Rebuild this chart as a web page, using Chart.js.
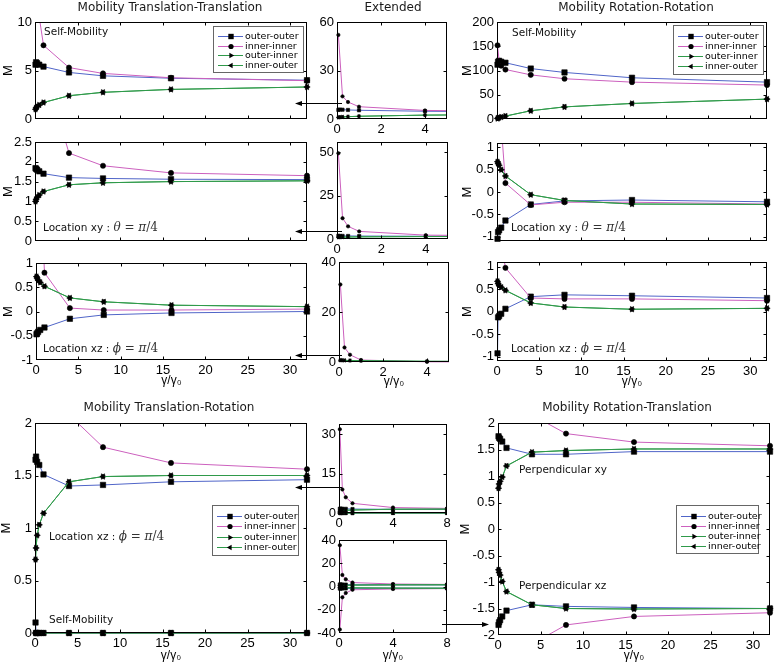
<!DOCTYPE html>
<html><head><meta charset="utf-8">
<style>
html,body{margin:0;padding:0;background:#fff;width:775px;height:666px;overflow:hidden}
#wrap{position:relative;width:775px;height:666px}
#wrap canvas{position:absolute;left:0;top:0}
</style>
<script src="https://cdn.jsdelivr.net/npm/chart.js@4.4.1/dist/chart.umd.min.js"></script>
</head><body>
<div id="wrap"></div>
<script>
// ---------- data ----------
const X = [0.0625, 0.125, 0.25, 0.5, 1, 4, 8, 16, 32];

// Mobility Translation-Translation
const ttSelfOO = [5.6, 5.85, 5.75, 5.6, 5.4, 4.8, 4.45, 4.2, 4.0];
const ttSelfII = [52, null, 14, 10.5, 7.6, 5.3, 4.7, 4.25, 3.95];
const ttSelfOI = [1.0, 1.15, 1.3, 1.45, 1.7, 2.4, 2.75, 3.05, 3.3];
const ttSelfIO = [1.0, 1.15, 1.3, 1.45, 1.7, 2.4, 2.75, 3.05, 3.3];
const ttXyOO = [1.84, 1.82, 1.8, 1.76, 1.7, 1.6, 1.58, 1.56, 1.55];
const ttXyII = [49.5, null, 12, 7.3, 4.4, 2.22, 1.9, 1.72, 1.65];
const ttXyOI = [1.0, 1.05, 1.1, 1.16, 1.25, 1.42, 1.47, 1.5, 1.52];
const ttXyIO = [1.0, 1.05, 1.1, 1.16, 1.25, 1.42, 1.47, 1.5, 1.52];
const ttXzOO = [-0.47, -0.45, -0.42, -0.38, -0.33, -0.15, -0.07, -0.03, 0.0];
const ttXzII = [31, null, 5.8, 2.9, 0.8, 0.07, 0.03, 0.03, 0.05];
const ttXzOI = [0.72, 0.69, 0.65, 0.6, 0.52, 0.28, 0.2, 0.13, 0.1];
const ttXzIO = [0.72, 0.69, 0.65, 0.6, 0.52, 0.28, 0.2, 0.13, 0.1];

// Mobility Rotation-Rotation
const rrSelfOO = [112, 118, 120, 118, 116, 104, 96, 85, 76];
const rrSelfII = [152, null, 120, 110, 102, 91, 83, 76, 70];
const rrSelfOI = [1, 2, 3, 4, 6, 17, 25, 32, 41];
const rrSelfIO = [1, 2, 3, 4, 6, 17, 25, 32, 41];
const rrXyOO = [-1.05, -0.9, -0.86, -0.8, -0.64, -0.28, -0.2, -0.18, -0.22];
const rrXyII = [8, null, 3, 1.5, 0.2, -0.29, -0.23, -0.23, -0.27];
const rrXyOI = [0.68, 0.64, 0.6, 0.5, 0.36, -0.06, -0.19, -0.27, -0.28];
const rrXyIO = [0.68, 0.64, 0.6, 0.5, 0.36, -0.06, -0.19, -0.27, -0.28];
const rrXzOO = [-0.93, -0.13, -0.1, -0.05, 0.06, 0.33, 0.37, 0.35, 0.3];
const rrXzII = [5, null, 2.5, 1.5, 0.97, 0.3, 0.28, 0.28, 0.24];
const rrXzOI = [0.67, 0.62, 0.58, 0.54, 0.47, 0.19, 0.1, 0.05, 0.07];
const rrXzIO = [0.67, 0.62, 0.58, 0.54, 0.47, 0.19, 0.1, 0.05, 0.07];

// Mobility Translation-Rotation
const trXzOO = [1.65, 1.68, 1.63, 1.6, 1.51, 1.40, 1.41, 1.44, 1.46];
const trXzII = [32, null, 9, 6, 3.7, 2.08, 1.77, 1.62, 1.56];
const trXzOI = [0.7, 0.81, 0.93, 1.03, 1.14, 1.44, 1.49, 1.5, 1.5];
const trXzIO = [0.7, 0.81, 0.93, 1.03, 1.14, 1.44, 1.49, 1.5, 1.5];
const trSelfOO = [0.1, 0, 0, 0, 0, 0, 0, 0, 0];
const trSelfII = [0, 0, 0, 0, 0, 0, 0, 0, 0];
const trSelfOI = [0, 0, 0, 0, 0, 0, 0, 0, 0];
const trSelfIO = [0, 0, 0, 0, 0, 0, 0, 0, 0];

// Mobility Rotation-Translation
const rtXyOO = [1.75, 1.72, 1.70, 1.65, 1.53, 1.41, 1.41, 1.46, 1.46];
const rtXyII = [35.5, null, 9.9, 6.2, 3.4, 2.15, 1.80, 1.64, 1.57];
const rtXyOI = [0.77, 0.85, 0.9, 0.98, 1.19, 1.45, 1.48, 1.51, 1.51];
const rtXyIO = [0.77, 0.85, 0.9, 0.98, 1.19, 1.45, 1.48, 1.51, 1.51];
const rtXzOO = [-1.81, -1.76, -1.72, -1.65, -1.54, -1.43, -1.46, -1.48, -1.5];
const rtXzII = [-37, null, -9.3, -5.6, -2.8, -2.17, -1.81, -1.65, -1.58];
const rtXzOI = [-0.77, -0.82, -0.87, -0.99, -1.18, -1.43, -1.5, -1.51, -1.5];
const rtXzIO = [-0.77, -0.82, -0.87, -0.99, -1.18, -1.43, -1.5, -1.51, -1.5];

// tick values
const xTicksMain = [0, 5, 10, 15, 20, 25, 30];
const xTicksExt5 = [0, 2, 4];
const xTicksExt8 = [0, 4, 8];
const yTicksTTself = [0, 5, 10];
const yTicksTTselfExt = [0, 30, 60];
const yTicksTTxy = [0, 0.5, 1, 1.5, 2, 2.5];
const yTicksTTxyExt = [0, 25, 50];
const yTicksUnit = [-1, -0.5, 0, 0.5, 1];
const yTicksTTxzExt = [0, 20, 40];
const yTicksRRself = [0, 50, 100, 150, 200];
const yTicksTR = [0, 0.5, 1, 1.5, 2];
const yTicksTRext = [0, 15, 30];
const yTicksTRext2 = [-40, -20, 0, 20, 40];
const yTicksRT = [-2, -1.5, -1, -0.5, 0, 0.5, 1, 1.5, 2];

const LEGEND_LABELS = {oo: 'outer-outer', ii: 'inner-inner', oi: 'outer-inner', io: 'inner-outer'};

// ---------- style / layout ----------
const C_OO = '#5065c8', C_II = '#cc60be', C_GR = '#2f9a4a';
const SER = {
  oo: {color: C_OO, style: 'rect', rot: 0, order: 4},
  ii: {color: C_II, style: 'circle', rot: 0, order: 3},
  oi: {color: C_GR, style: 'triangle', rot: 90, order: 2},
  io: {color: C_GR, style: 'triangle', rot: -90, order: 1}
};
const RAD = {big: {rect: 3.8, circle: 2.6, triangle: 3.2}, small: {rect: 2.3, circle: 1.7, triangle: 2.1}};
const TICK_FONT = {family: '"Liberation Sans", Arial, sans-serif', size: 13};
const TEXT_FONT = '"DejaVu Sans", sans-serif';
const SERIF = '"DejaVu Serif", serif';

function grp(oo, ii, oi, io) {
  return [{kind: 'oo', y: oo}, {kind: 'ii', y: ii}, {kind: 'oi', y: oi}, {kind: 'io', y: io}];
}
function locText(axis, sym) {
  return [{t: 'Location ' + axis + ' : ', f: '10.5px ' + TEXT_FONT, c: '#111'},
          {t: sym, f: 'italic 12px ' + SERIF, c: '#333'},
          {t: ' = ', f: '12px ' + SERIF, c: '#333'},
          {t: 'π', f: 'italic 12px ' + SERIF, c: '#333'},
          {t: '/4', f: '12px ' + SERIF, c: '#333'}];
}
function plain(t) { return [{t: t, f: '10.5px ' + TEXT_FONT, c: '#111'}]; }

const PANELS = [
  {rect: [35, 22, 307, 119], x: [0, 32, xTicksMain], y: [0, 10, yTicksTTself], W: 33, H: 0, yTitle: true,
   series: grp(ttSelfOO, ttSelfII, ttSelfOI, ttSelfIO), texts: [[plain('Self-Mobility'), 44, 32]], legend: [213, 26, 303, 72]},
  {rect: [337, 22, 447, 119], x: [0, 5, xTicksExt5], y: [0, 60, yTicksTTselfExt], W: 30, H: 16, xLab: true, small: true,
   series: grp(ttSelfOO, ttSelfII, ttSelfOI, ttSelfIO)},
  {rect: [35, 142, 307, 241], x: [0, 32, xTicksMain], y: [0, 2.5, yTicksTTxy], W: 33, H: 0, yTitle: true,
   series: grp(ttXyOO, ttXyII, ttXyOI, ttXyIO), texts: [[locText('xy', 'θ'), 43, 228]]},
  {rect: [337, 142, 448, 239], x: [0, 5, xTicksExt5], y: [0, 56, yTicksTTxyExt], W: 30, H: 16, xLab: true, small: true,
   series: grp(ttXyOO, ttXyII, ttXyOI, ttXyIO)},
  {rect: [36, 263, 307, 360], x: [0, 32, xTicksMain], y: [-1, 1, yTicksUnit], W: 34, H: 27, yTitle: true, xLab: true, xTitle: true,
   series: grp(ttXzOO, ttXzII, ttXzOI, ttXzIO), texts: [[locText('xz', 'ϕ'), 43, 349]]},
  {rect: [339, 262, 449, 362], x: [0, 5, xTicksExt5], y: [0, 40, yTicksTTxzExt], W: 30, H: 26, xLab: true, xTitle: true, small: true,
   series: grp(ttXzOO, ttXzII, ttXzOI, ttXzIO)},
  {rect: [497, 22, 767, 119], x: [0, 32, xTicksMain], y: [0, 200, yTicksRRself], W: 36, H: 0, yTitle: true,
   series: grp(rrSelfOO, rrSelfII, rrSelfOI, rrSelfIO), texts: [[plain('Self-Mobility'), 512, 33]], legend: [673, 25, 763, 74]},
  {rect: [497, 143, 767, 241], x: [0, 32, xTicksMain], y: [-1.1, 1.1, yTicksUnit], W: 36, H: 0, yTitle: true,
   series: grp(rrXyOO, rrXyII, rrXyOI, rrXyIO), texts: [[locText('xy', 'θ'), 511, 228]]},
  {rect: [497, 262, 767, 361], x: [0, 32, xTicksMain], y: [-1.1, 1.1, yTicksUnit], W: 36, H: 27, yTitle: true, xLab: true, xTitle: true,
   series: grp(rrXzOO, rrXzII, rrXzOI, rrXzIO), texts: [[locText('xz', 'ϕ'), 511, 349]]},
  {rect: [35, 423, 307, 633], x: [0, 32, xTicksMain], y: [0, 2, yTicksTR], W: 35, H: 29, yTitle: true, xLab: true, xTitle: true,
   series: grp(trSelfOO, trSelfII, trSelfOI, trSelfIO).concat(grp(trXzOO, trXzII, trXzOI, trXzIO)),
   texts: [[locText('xz', 'ϕ'), 49, 537], [plain('Self-Mobility'), 49, 620]], legend: [212, 505, 298, 555]},
  {rect: [339, 424, 447, 513], x: [0, 8, xTicksExt8], y: [0, 34, yTicksTRext], W: 30, H: 16, xLab: true, small: true,
   series: grp(trSelfOO, trSelfII, trSelfOI, trSelfIO).concat(grp(trXzOO, trXzII, trXzOI, trXzIO))},
  {rect: [339, 540, 447, 633], x: [0, 8, xTicksExt8], y: [-40, 40, yTicksTRext2], W: 30, H: 29, xLab: true, xTitle: true, small: true,
   series: grp(rtXyOO, rtXyII, rtXyOI, rtXyIO).concat(grp(rtXzOO, rtXzII, rtXzOI, rtXzIO))},
  {rect: [498, 423, 770, 635], x: [0, 32, xTicksMain], y: [-2, 2, yTicksRT], W: 39, H: 27, yTitle: true, xLab: true, xTitle: true,
   series: grp(rtXyOO, rtXyII, rtXyOI, rtXyIO).concat(grp(rtXzOO, rtXzII, rtXzOI, rtXzIO)),
   texts: [[plain('Perpendicular xy'), 519, 470], [plain('Perpendicular xz'), 519, 586]], legend: [676, 505, 758, 553]}
];

const TITLES = [
  ['Mobility Translation-Translation', 170, 8],
  ['Extended', 393, 8],
  ['Mobility Rotation-Rotation', 636, 8],
  ['Mobility Translation-Rotation', 169, 408],
  ['Mobility Rotation-Translation', 627, 408]
];
const ARROWS = [
  [342, 103, 295, 103],
  [342, 231, 295, 231],
  [342, 355, 295, 355],
  [342, 487, 295, 487],
  [442, 624, 489, 624]
];

// ---------- drawing helpers ----------
function drawMarker(ctx, style, rot, r, x, y) {
  ctx.beginPath();
  if (style === 'rect') {
    const s = r * Math.SQRT1_2;
    ctx.rect(x - s, y - s, 2 * s, 2 * s);
  } else if (style === 'circle') {
    ctx.arc(x, y, r, 0, Math.PI * 2);
  } else {
    let a = rot * Math.PI / 180;
    ctx.moveTo(x + Math.sin(a) * r, y - Math.cos(a) * r);
    a += 2 * Math.PI / 3;
    ctx.lineTo(x + Math.sin(a) * r, y - Math.cos(a) * r);
    a += 2 * Math.PI / 3;
    ctx.lineTo(x + Math.sin(a) * r, y - Math.cos(a) * r);
    ctx.closePath();
  }
  ctx.fill();
}
function drawRich(ctx, segs, x, y) {
  ctx.textAlign = 'left';
  ctx.textBaseline = 'middle';
  for (const s of segs) {
    ctx.font = s.f;
    ctx.fillStyle = s.c;
    ctx.fillText(s.t, x, y);
    x += ctx.measureText(s.t).width;
  }
}

const framePlugin = {
  id: 'frame',
  afterDraw(chart) {
    const p = chart.options.plugins.frame;
    const {ctx, chartArea: a, scales} = chart;
    const L = Math.round(a.left) + 0.5, T = Math.round(a.top) + 0.5;
    const R = Math.round(a.right) - 0.5, B = Math.round(a.bottom) - 0.5;
    ctx.save();
    ctx.strokeStyle = '#000';
    ctx.lineWidth = 1;
    const tl = 3;
    ctx.beginPath();
    for (const v of p.xt) {
      const px = Math.round(scales.x.getPixelForValue(v)) + 0.5;
      if (px < L || px > R) continue;
      ctx.moveTo(px, B); ctx.lineTo(px, B - tl);
      ctx.moveTo(px, T); ctx.lineTo(px, T + tl);
    }
    for (const v of p.yt) {
      const py = Math.round(scales.y.getPixelForValue(v)) + 0.5;
      if (py < T || py > B) continue;
      ctx.moveTo(L, py); ctx.lineTo(L + tl, py);
      ctx.moveTo(R, py); ctx.lineTo(R - tl, py);
    }
    ctx.stroke();
    ctx.strokeRect(L, T, R - L, B - T);
    for (const [segs, x, y] of (p.texts || [])) drawRich(ctx, segs, x, y);
    if (p.legend) {
      const [lx, ly, rx, by] = p.legend;
      ctx.fillStyle = '#fff';
      ctx.fillRect(lx + 0.5, ly + 0.5, rx - lx, by - ly);
      ctx.strokeStyle = '#666';
      ctx.strokeRect(lx + 0.5, ly + 0.5, rx - lx, by - ly);
      const keys = ['oo', 'ii', 'oi', 'io'];
      const step = (by - ly - 8) / 4;
      keys.forEach((k, i) => {
        const y = Math.round(ly + 4 + step * (i + 0.5) + 1.5) + 0.5;
        ctx.strokeStyle = SER[k].color;
        ctx.beginPath(); ctx.moveTo(lx + 5, y); ctx.lineTo(lx + 30, y); ctx.stroke();
        ctx.fillStyle = '#000';
        drawMarker(ctx, SER[k].style, SER[k].rot, RAD.big[SER[k].style], lx + 18, y);
        ctx.font = '9.5px ' + TEXT_FONT;
        ctx.textAlign = 'left'; ctx.textBaseline = 'middle';
        ctx.fillText(LEGEND_LABELS[k], lx + 32, y);
      });
    }
    ctx.restore();
  }
};

const pagePlugin = {
  id: 'page',
  afterDraw(chart) {
    const ctx = chart.ctx;
    ctx.save();
    ctx.fillStyle = '#1a1a1a';
    ctx.font = '12px ' + TEXT_FONT;
    ctx.textAlign = 'center'; ctx.textBaseline = 'middle';
    for (const [t, x, y] of TITLES) ctx.fillText(t, x, y);
    ctx.strokeStyle = '#000'; ctx.fillStyle = '#000'; ctx.lineWidth = 1;
    for (const [x1, y1, x2, y2] of ARROWS) {
      const d = Math.sign(x2 - x1);
      const yy = y1 + 0.5;
      ctx.beginPath(); ctx.moveTo(x1, yy); ctx.lineTo(x2 - d * 5, yy); ctx.stroke();
      ctx.beginPath(); ctx.moveTo(x2, yy); ctx.lineTo(x2 - d * 7, yy - 2.5); ctx.lineTo(x2 - d * 7, yy + 2.5); ctx.closePath(); ctx.fill();
    }
    ctx.restore();
  }
};

// ---------- build charts ----------
const wrap = document.getElementById('wrap');
PANELS.forEach((p, idx) => {
  const [l, t, r, b] = p.rect;
  const [xMin, xMax, xt] = p.x;
  const [yMin, yMax, yt] = p.y;
  const cv = document.createElement('canvas');
  cv.width = 775; cv.height = 666;
  cv.style.width = '775px'; cv.style.height = '666px';
  wrap.appendChild(cv);
  const datasets = p.series.map(s => {
    const k = SER[s.kind];
    const pts = X.map((x, i) => ({x: x, y: s.y[i]})).filter(q => q.y !== null);
    const m = 8;
    const clip = {
      left: pts.some(q => q.x < xMin) ? 0 : m,
      right: pts.some(q => q.x > xMax) ? 0 : m,
      top: pts.some(q => q.y > yMax) ? 0 : m,
      bottom: pts.some(q => q.y < yMin) ? 0 : m
    };
    return {
      data: pts, borderColor: k.color, backgroundColor: k.color, borderWidth: 1,
      pointStyle: k.style, pointRotation: k.rot, pointRadius: RAD[p.small ? 'small' : 'big'][k.style],
      pointBackgroundColor: '#000', pointBorderColor: '#000', pointBorderWidth: 0.6,
      order: k.order, clip: clip, tension: 0, fill: false
    };
  });
  const plugins = [framePlugin];
  if (idx === PANELS.length - 1) plugins.push(pagePlugin);
  new Chart(cv, {
    type: 'line',
    data: {datasets: datasets},
    options: {
      responsive: false, animation: false, events: [], devicePixelRatio: 1,
      layout: {autoPadding: false, padding: {left: l - p.W, top: t, right: 775 - r, bottom: 666 - b - p.H}},
      plugins: {legend: {display: false}, tooltip: {enabled: false}, title: {display: false},
                frame: {xt: xt, yt: yt, texts: p.texts, legend: p.legend}},
      scales: {
        x: {
          type: 'linear', min: xMin, max: xMax,
          afterBuildTicks: s => { s.ticks = xt.map(v => ({value: v})); },
          afterFit: s => { s.height = p.H; s.paddingLeft = 0; s.paddingRight = 0; },
          grid: {display: false, drawTicks: false}, border: {display: false},
          ticks: {display: !!p.xLab, color: '#000', font: TICK_FONT, padding: 3, maxRotation: 0, autoSkip: false,
                  callback: v => String(v)},
          title: {display: !!p.xTitle, text: 'γ/γ₀', color: '#000', font: Object.assign({}, TICK_FONT, {size: 12, lineHeight: 1}), padding: 0}
        },
        y: {
          type: 'linear', min: yMin, max: yMax,
          afterBuildTicks: s => { s.ticks = yt.map(v => ({value: v})); },
          afterFit: s => { s.width = p.W; s.paddingTop = 0; s.paddingBottom = 0; },
          grid: {display: false, drawTicks: false}, border: {display: false},
          ticks: {display: true, color: '#000', font: TICK_FONT, padding: 3, autoSkip: false,
                  callback: v => String(v)},
          title: {display: !!p.yTitle, text: 'M', color: '#000', font: Object.assign({}, TICK_FONT, {lineHeight: 1}), padding: 0}
        }
      }
    },
    plugins: plugins
  });
});
</script>
</body></html>
